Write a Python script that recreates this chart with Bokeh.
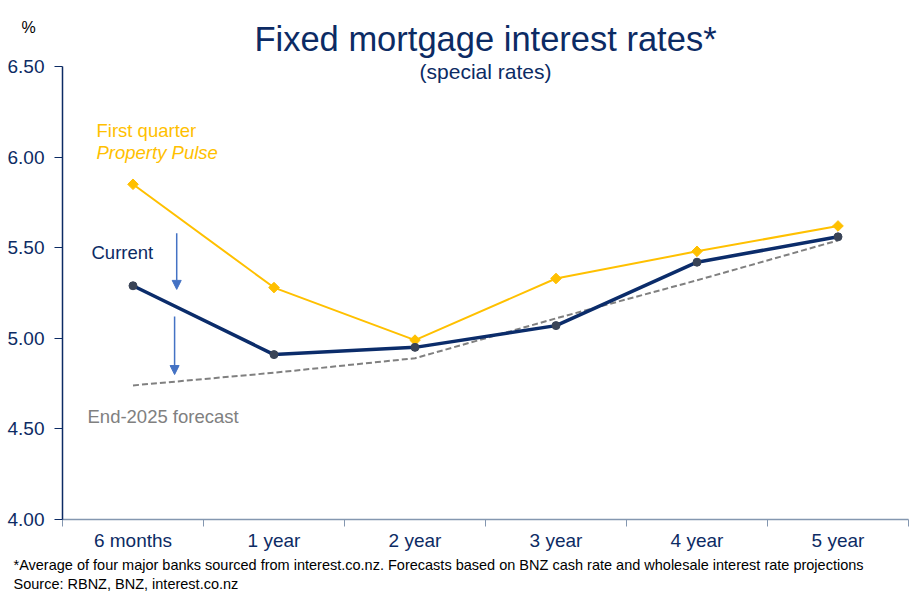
import math
from bokeh.plotting import figure
from bokeh.models import Range1d, FixedTicker, Label, Arrow, NormalHead, PrintfTickFormatter
from bokeh.embed import file_html
from bokeh.resources import INLINE

# ---- data ----
categories = ["6 months", "1 year", "2 year", "3 year", "4 year", "5 year"]
first_quarter = [5.85, 5.28, 4.99, 5.33, 5.48, 5.62]
current = [5.29, 4.91, 4.95, 5.07, 5.42, 5.56]
forecast_2025 = [4.74, 4.81, 4.89, 5.11, 5.32, 5.54]
y_ticks = [4.0, 4.5, 5.0, 5.5, 6.0, 6.5]

# annotation arrows (x in category-slot units, y in %)
arrows = [(0.81, 5.58, 5.27), (0.795, 5.12, 4.80)]

FONT = "Liberation Sans"
NAVY = "#0C2B64"
GOLD = "#FFC000"
GREY = "#808080"

# axis geometry in page pixels (6.50 at FT, 4.00 at FB)
FL, FR, FT, FB = 62, 908, 66, 519
FRAME_TOP = 57          # frame reaches a little above the 6.50 tick so the subtitle fits inside
Y0, Y1 = 4.0, 6.5
PX = (Y1 - Y0) / (FB - FT)  # data units per pixel

xs = [i + 0.5 for i in range(len(categories))]

p = figure(width=915, height=597, output_backend="svg", toolbar_location=None,
           x_range=Range1d(0, len(categories)),
           y_range=Range1d(Y0, Y1 + (FT - FRAME_TOP) * PX),
           min_border_left=FL, min_border_right=915 - FR, min_border_top=FRAME_TOP,
           min_border_bottom=597 - FB)
p.outline_line_color = None
p.grid.visible = False
p.background_fill_color = "white"
p.border_fill_color = "white"

# axes
xa = p.xaxis[0]
xa.ticker = FixedTicker(ticks=xs, minor_ticks=list(range(len(categories) + 1)))
xa.major_label_overrides = {x: c for x, c in zip(xs, categories)}
xa.major_tick_line_color = None
xa.major_tick_out = 0
xa.major_tick_in = 0
xa.minor_tick_out = 7
xa.minor_tick_in = 0
xa.minor_tick_line_color = "#8497B0"
xa.axis_line_color = "#8497B0"
xa.axis_line_width = 1.5
xa.major_label_text_font = FONT
xa.major_label_text_font_size = "19px"
xa.major_label_text_color = NAVY
xa.major_label_standoff = 3

ya = p.yaxis[0]
ya.ticker = FixedTicker(ticks=y_ticks)
ya.bounds = (Y0, Y1)
ya.formatter = PrintfTickFormatter(format="%.2f")
ya.major_tick_out = 8
ya.major_tick_in = 0
ya.minor_tick_line_color = None
ya.axis_line_color = NAVY
ya.axis_line_width = 1.5
ya.major_tick_line_color = NAVY
ya.major_label_text_font = FONT
ya.major_label_text_font_size = "19px"
ya.major_label_text_color = NAVY
ya.major_label_standoff = 10


def to_data(X, Y):
    """page pixel position -> data position (for text placement only)"""
    n = len(categories)
    return ((X - FL) * n / (FR - FL), Y0 + (FB - Y) * PX)


def lab(text, X, Y, size, color, align="left", style="normal", baseline="middle", place="center"):
    x, y = to_data(X, Y)
    l = Label(x=x, y=y, text=text, text_font=FONT, text_font_size=size, text_color=color,
              text_align=align, text_baseline=baseline, text_font_style=style)
    p.add_layout(l, place)


# texts outside the frame live in side panels (not clipped)
lab("Fixed mortgage interest rates*", 485, 38, "34.5px", NAVY, align="center", baseline="alphabetic", place="above")
lab("%", 21, 27, "16px", "black", baseline="alphabetic", place="above")
lab("*Average of four major banks sourced from interest.co.nz. Forecasts based on BNZ cash rate and wholesale interest rate projections",
    13, 564, "14.5px", "black", baseline="alphabetic", place="below")
lab("Source: RBNZ, BNZ, interest.co.nz", 13, 583, "14.5px", "black", baseline="alphabetic", place="below")

# texts inside the frame
lab("(special rates)", 485, 71, "21px", NAVY, align="center", baseline="alphabetic")
lab("First quarter", 96, 130, "18.5px", GOLD)
lab("Property Pulse", 96, 152, "18.5px", GOLD, style="italic")
lab("Current", 91, 252, "18.5px", NAVY)
lab("End-2025 forecast", 87, 416, "18.5px", GREY)

# series
p.line(xs, forecast_2025, line_color=GREY, line_width=2, line_dash="6 3")
p.line(xs, first_quarter, line_color=GOLD, line_width=2)
p.scatter(xs, first_quarter, marker="square", angle=math.pi / 4, size=7.5, fill_color=GOLD, line_color=GOLD)
p.line(xs, current, line_color="#0B2C6A", line_width=3.5)
p.scatter(xs, current, marker="circle", size=8, fill_color="#3A4457", line_color="#3A4457")

for ax, y0, y1 in arrows:
    p.add_layout(Arrow(x_start=ax, y_start=y0, x_end=ax, y_end=y1, level="overlay",
                       line_color="#4472C4", line_width=1.5,
                       end=NormalHead(size=9, fill_color="#4472C4", line_color="#4472C4")))

open("out.html", "w").write(file_html(p, INLINE))
